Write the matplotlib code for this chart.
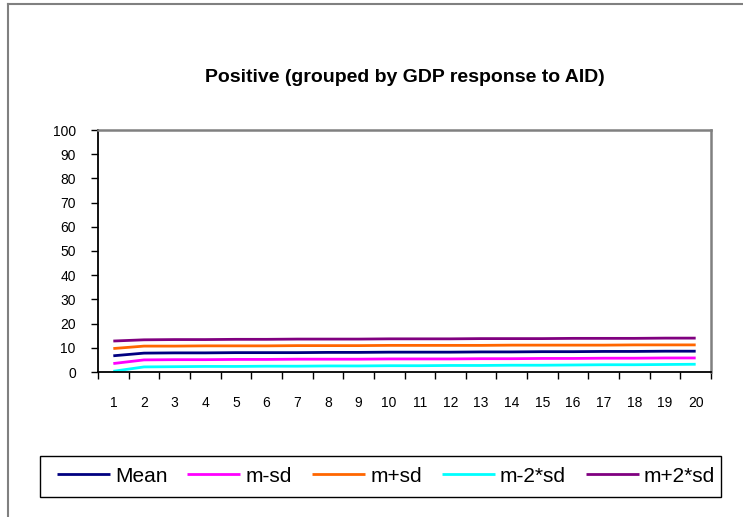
import matplotlib
matplotlib.use("Agg")
import matplotlib.pyplot as plt
from matplotlib.lines import Line2D
from matplotlib.patches import Rectangle

plt.rcParams['font.family'] = ['Liberation Sans', 'DejaVu Sans']

periods = list(range(1, 21))
mean = [6.7, 7.8, 7.9, 7.9, 8.0, 8.0, 8.0, 8.1, 8.1, 8.2, 8.2, 8.2, 8.3, 8.3, 8.4, 8.4, 8.5, 8.5, 8.6, 8.6]
m_sd = [3.5, 5.0, 5.1, 5.1, 5.2, 5.2, 5.3, 5.3, 5.3, 5.4, 5.4, 5.4, 5.5, 5.5, 5.6, 5.6, 5.7, 5.7, 5.8, 5.8]
p_sd = [9.7, 10.7, 10.7, 10.8, 10.8, 10.8, 10.9, 10.9, 10.9, 11.0, 11.0, 11.0, 11.0, 11.1, 11.1, 11.1, 11.1, 11.2, 11.2, 11.2]
m_2sd = [0.3, 2.1, 2.2, 2.3, 2.3, 2.4, 2.4, 2.5, 2.5, 2.6, 2.6, 2.7, 2.7, 2.8, 2.8, 2.9, 3.0, 3.0, 3.1, 3.2]
p_2sd = [12.8, 13.3, 13.4, 13.4, 13.5, 13.5, 13.6, 13.6, 13.6, 13.7, 13.7, 13.7, 13.8, 13.8, 13.8, 13.9, 13.9, 13.9, 14.0, 14.0]

series_names = ["Mean", "m-sd", "m+sd", "m-2*sd", "m+2*sd"]
series_values = [mean, m_sd, p_sd, m_2sd, p_2sd]
series_colors = ["#000080", "#FF00FF", "#FF6600", "#00FFFF", "#800080"]

title = "Positive (grouped by GDP response to AID)"

W, H = 743, 517
fig = plt.figure(figsize=(W / 100, H / 100), dpi=100)

# outer chart border (partially off-canvas)
fig.add_artist(Line2D([8 / W, 1.0], [1 - 4 / H, 1 - 4 / H], color="#808080", lw=1.5, transform=fig.transFigure))
fig.add_artist(Line2D([8 / W, 8 / W], [0.0, 1 - 4 / H], color="#808080", lw=1.5, transform=fig.transFigure))

left, right, top, bottom = 98, 711, 130, 372
ax = fig.add_axes([left / W, 1 - bottom / H, (right - left) / W, (bottom - top) / H])

handles = []
for name, vals, c in zip(series_names, series_values, series_colors):
    h, = ax.plot(periods, vals, color=c, lw=2.0, label=name, solid_capstyle='butt')
    handles.append(h)

ax.set_xlim(0.5, 20.5)
ax.set_ylim(0, 100)
ax.set_yticks(range(0, 101, 10))
ax.set_xticks([i + 0.5 for i in range(0, 21)])
ax.set_xticklabels([])
ax.set_xticks(periods, minor=True)
ax.set_xticklabels([str(p) for p in periods], minor=True)
ax.tick_params(axis='x', which='major', direction='out', length=5, width=1, color='black')
ax.tick_params(axis='x', which='minor', length=0, pad=17, labelsize=10)
ax.tick_params(axis='y', direction='out', length=5, width=1, color='black', labelsize=10, pad=11)

for s in ['left', 'bottom']:
    ax.spines[s].set_color('black')
    ax.spines[s].set_linewidth(1.3)
for s in ['top', 'right']:
    ax.spines[s].set_color('#808080')
    ax.spines[s].set_linewidth(1.8)

fig.text((left + right) / 2 / W, 1 - 77 / H, title, ha='center', va='center',
         fontsize=14, fontweight='bold')

# legend frame
fig.add_artist(Rectangle((40 / W, 1 - 497 / H), (721 - 40) / W, (497 - 456) / H,
                         transform=fig.transFigure, fill=False, edgecolor='black', lw=1.0))
leg = fig.legend(handles, series_names, ncol=5, loc='center',
                 bbox_to_anchor=((60 + 712) / 2 / W, 1 - 476 / H),
                 frameon=False, fontsize=15,
                 handlelength=2.55, handletextpad=0.25, columnspacing=0.95,
                 borderpad=0.0, borderaxespad=0)

fig.savefig("out.png", dpi=100)
